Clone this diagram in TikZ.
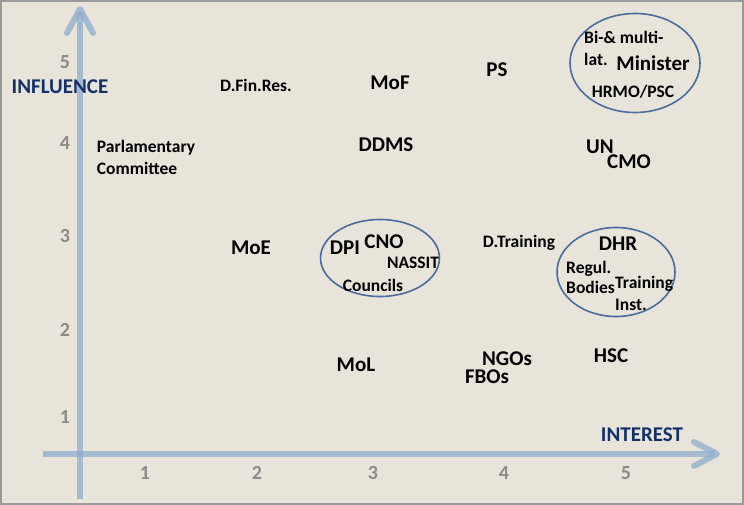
\documentclass[tikz,border=0pt]{standalone}
\usepackage{fontspec}
\setmainfont{Carlito}
\definecolor{bgc}{HTML}{E8E4D9}
\definecolor{framec}{HTML}{9A9A9A}
\definecolor{axisc}{HTML}{8EADCF}
\definecolor{navy}{HTML}{13306B}
\definecolor{tickc}{HTML}{8A8A8A}
\definecolor{ellc}{HTML}{4A6C9E}
\tikzset{
  big/.style={font=\bfseries\fontsize{21}{24}\selectfont, inner sep=0pt, text=black},
  small/.style={font=\bfseries\fontsize{17.5}{22}\selectfont, inner sep=0pt, text=black},
  tick/.style={font=\bfseries\fontsize{20}{22}\selectfont, inner sep=0pt, text=tickc},
  axlabel/.style={font=\bfseries\fontsize{21}{24}\selectfont, inner sep=0pt, text=navy},
  axisline/.style={draw=axisc, line width=6pt, opacity=0.75},
  axishead/.style={draw=axisc, line width=6pt, line cap=round, line join=round, opacity=0.75},
  grp/.style={draw=ellc, line width=1.6pt, ellipse, inner sep=0pt}
}
\usetikzlibrary{shapes.geometric}
\begin{document}
\begin{tikzpicture}[x=1pt,y=-1pt]
\useasboundingbox (0,0) rectangle (744,505);
\fill[bgc] (0,0) rectangle (744,505);
\draw[framec, line width=2pt] (1,1) rectangle (743,504);

% axes
\coordinate (ybot) at (80,499);
\coordinate (ytop) at (80,12);
\coordinate (xleft) at (43,454);
\coordinate (xright) at (714,454);
\draw[axisline] (ybot) -- (ytop);
\draw[axishead] (67,33) -- (80,9) -- (93,33);
\draw[axisline] (xleft) -- (xright);
\draw[axishead] (694,442) -- (717,454) -- (694,466);

% axis labels
\node[axlabel] (influence) at (60,87) {INFLUENCE};
\node[axlabel] (interest) at (642,435) {INTEREST};

% ticks
\node[tick] (y5) at (65,62) {5};
\node[tick] (y4) at (65,143) {4};
\node[tick] (y3) at (65,236) {3};
\node[tick] (y2) at (65,330) {2};
\node[tick] (y1) at (65,417) {1};
\node[tick] (x1) at (145,473) {1};
\node[tick] (x2) at (257,473) {2};
\node[tick] (x3) at (373,473) {3};
\node[tick] (x4) at (504,473) {4};
\node[tick] (x5) at (626,473) {5};

% ellipses
\node[grp, minimum width=130pt, minimum height=99pt] (e1) at (635,63) {};
\node[grp, minimum width=119pt, minimum height=77pt] (e2) at (380,258) {};
\node[grp, minimum width=118pt, minimum height=89pt] (e3) at (616,272) {};

% stakeholders
\node[small] (dfin) at (256,85) {D.Fin.Res.};
\node[big] (mof) at (390,83) {MoF};
\node[big] (ps) at (497,70) {PS};
\node[small, align=left] (parl) at (146,157) {Parlamentary\\Committee};
\node[big] (ddms) at (386,145) {DDMS};
\node[big] (un) at (600,147) {UN};
\node[big] (cmo) at (629,162) {CMO};

\node[small, align=left, anchor=west] (bilat) at (584,48.5) {Bi-\& multi-\\lat.};
\node[big] (minister) at (653,63) {Minister};
\node[small] (hrmo) at (633,92) {HRMO/PSC};

\node[big] (moe) at (251,248) {MoE};
\node[big] (dpi) at (345,248) {DPI};
\node[big] (cno) at (384,242) {CNO};
\node[small] (nassit) at (413,263) {NASSIT};
\node[small] (councils) at (373,285) {Councils};

\node[small] (dtrain) at (519,243) {D.Training};
\node[big] (dhr) at (618,244) {DHR};
\node[small, align=left, anchor=west, font=\bfseries\fontsize{17.5}{19.5}\selectfont] (regul) at (566,277.5) {Regul.\\Bodies};
\node[small, align=left, anchor=west] (tinst) at (615,293) {Training\\Inst.};

\node[big] (mol) at (356,365) {MoL};
\node[big] (ngos) at (507,359) {NGOs};
\node[big] (fbos) at (487,377) {FBOs};
\node[big] (hsc) at (611,356) {HSC};
\end{tikzpicture}
\end{document}
